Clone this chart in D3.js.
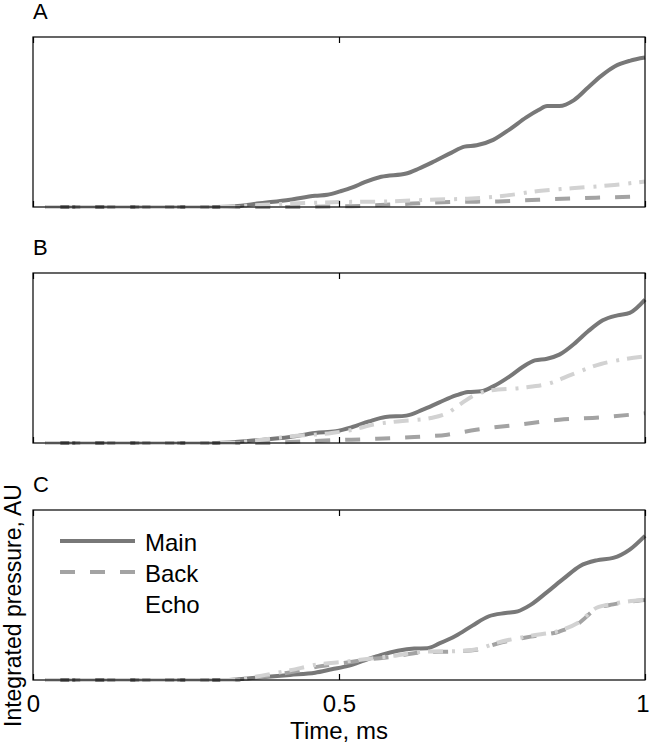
<!DOCTYPE html>
<html>
<head>
<meta charset="utf-8">
<script src="https://cdn.jsdelivr.net/npm/d3@7"></script>
<style>
  body { margin: 0; background: #fff; }
  svg text { font-family: "Liberation Sans", Arial, sans-serif; fill: #000; }
</style>
</head>
<body>
<div id="chart"></div>
<script>
const width = 650;
const height = 745;

// time (ms) and integrated pressure (fraction of panel height)
const mainA = [[0.02,0],[0.3,0],[0.34,0.008],[0.366,0.02],[0.42,0.043],[0.461,0.066],[0.481,0.072],[0.502,0.092],[0.522,0.115],[0.542,0.146],[0.569,0.178],[0.61,0.197],[0.63,0.225],[0.657,0.271],[0.684,0.32],[0.705,0.355],[0.725,0.363],[0.752,0.395],[0.779,0.457],[0.806,0.527],[0.826,0.57],[0.84,0.594],[0.86,0.594],[0.884,0.629],[0.907,0.703],[0.928,0.77],[0.951,0.828],[0.975,0.86],[1,0.879]];
const backA = [[0.02,0],[0.4,0],[0.52,0.005],[0.62,0.02],[0.69,0.03],[0.76,0.033],[0.826,0.043],[0.92,0.055],[1,0.062]];
const echoA = [[0.02,0],[0.3,0],[0.35,0.008],[0.42,0.02],[0.5,0.029],[0.58,0.033],[0.65,0.043],[0.71,0.049],[0.77,0.066],[0.826,0.094],[0.88,0.11],[0.95,0.13],[1,0.15]];

const mainB = [[0.02,0],[0.3,0],[0.366,0.016],[0.42,0.035],[0.461,0.059],[0.495,0.069],[0.522,0.094],[0.549,0.127],[0.576,0.153],[0.61,0.161],[0.637,0.196],[0.664,0.239],[0.691,0.28],[0.711,0.3],[0.732,0.304],[0.752,0.333],[0.779,0.392],[0.8,0.447],[0.82,0.486],[0.84,0.496],[0.86,0.52],[0.887,0.592],[0.907,0.657],[0.931,0.722],[0.955,0.751],[0.975,0.765],[1,0.843]];
const backB = [[0.02,0],[0.38,0],[0.42,0.006],[0.488,0.016],[0.556,0.024],[0.623,0.035],[0.677,0.049],[0.724,0.078],[0.793,0.108],[0.86,0.137],[0.928,0.151],[1,0.175]];
const echoB = [[0.02,0],[0.32,0],[0.353,0.01],[0.42,0.039],[0.488,0.059],[0.522,0.078],[0.556,0.108],[0.596,0.127],[0.65,0.147],[0.677,0.176],[0.697,0.225],[0.718,0.275],[0.745,0.308],[0.8,0.325],[0.846,0.353],[0.88,0.402],[0.928,0.465],[0.961,0.49],[1,0.51]];

const mainC = [[0.02,0],[0.32,0],[0.366,0.014],[0.42,0.03],[0.461,0.043],[0.488,0.063],[0.515,0.083],[0.542,0.116],[0.569,0.148],[0.596,0.172],[0.623,0.185],[0.644,0.187],[0.664,0.215],[0.691,0.26],[0.718,0.32],[0.745,0.375],[0.772,0.394],[0.792,0.404],[0.813,0.442],[0.84,0.517],[0.867,0.596],[0.894,0.671],[0.921,0.704],[0.948,0.718],[0.975,0.767],[1,0.848]];
const backC = [[0.02,0],[0.33,0],[0.38,0.022],[0.42,0.045],[0.468,0.08],[0.508,0.1],[0.542,0.118],[0.589,0.138],[0.637,0.163],[0.691,0.168],[0.725,0.178],[0.759,0.215],[0.813,0.255],[0.86,0.285],[0.89,0.33],[0.921,0.42],[0.948,0.445],[1,0.47]];
const echoC = [[0.02,0],[0.32,0],[0.38,0.03],[0.42,0.057],[0.468,0.093],[0.508,0.107],[0.542,0.122],[0.589,0.142],[0.637,0.166],[0.691,0.17],[0.725,0.181],[0.759,0.22],[0.813,0.26],[0.86,0.29],[0.89,0.335],[0.921,0.425],[0.948,0.448],[1,0.473]];

const panelLabels = ["A", "B", "C"];
const seriesNames = ["Main", "Back", "Echo"];
const xTicks = [0, 0.5, 1];
const xTickLabels = ["0", "0.5", "1"];

const panels = [
    { series: [mainA, backA, echoA], top: 37 },
    { series: [mainB, backB, echoB], top: 273 },
    { series: [mainC, backC, echoC], top: 510 }
];

const styles = {
    Main: { color: "#787878", dash: null },
    Back: { color: "#a3a3a3", dash: "15,15" },
    Echo: { color: "#d2d2d2", dash: "15,9,3,8" }
};

const left = 33, right = 645, panelH = 170;

const svg = d3.select("#chart")
    .append("svg")
    .attr("width", width)
    .attr("height", height);

const x = d3.scaleLinear().domain([0, 1]).range([left, right]);

panels.forEach((p, i) => {
    const y = d3.scaleLinear().domain([0, 1]).range([p.top + panelH, p.top]);
    const g = svg.append("g");

    const line = d3.line()
        .x(d => x(d[0]))
        .y(d => y(d[1]))
        .curve(d3.curveMonotoneX);

    p.series.forEach((s, k) => {
        const st = styles[seriesNames[k]];
        g.append("path")
            .datum(s)
            .attr("d", line)
            .attr("fill", "none")
            .attr("stroke", st.color)
            .attr("stroke-width", 4)
            .attr("stroke-dasharray", st.dash);
    });

    // box
    g.append("rect")
        .attr("x", left)
        .attr("y", p.top)
        .attr("width", right - left)
        .attr("height", panelH)
        .attr("fill", "none")
        .attr("stroke", "#000")
        .attr("stroke-width", 1.2);

    // inward ticks top and bottom
    const bottomAxis = d3.axisBottom(x).tickValues(xTicks).tickSizeInner(-6).tickSizeOuter(0)
        .tickFormat((d, j) => i === 2 ? xTickLabels[j] : "");
    const topAxis = d3.axisTop(x).tickValues(xTicks).tickSizeInner(-6).tickSizeOuter(0).tickFormat("");

    const gb = g.append("g").attr("transform", `translate(0,${p.top + panelH})`).call(bottomAxis);
    const gt = g.append("g").attr("transform", `translate(0,${p.top})`).call(topAxis);
    [gb, gt].forEach(a => {
        a.select(".domain").remove();
        a.selectAll("line").attr("stroke", "#000").attr("stroke-width", 1.2);
    });
    gb.selectAll("text")
        .attr("y", 32)
        .attr("dy", null)
        .style("font-size", "24px")
        .style("font-family", "Liberation Sans, Arial, sans-serif")
        .attr("fill", "#000")
        .attr("text-anchor", (d, j) => j === xTicks.length - 1 ? "end" : "middle")
        .attr("dx", (d, j) => j === xTicks.length - 1 ? 4 : 0);

    g.append("text")
        .attr("x", left)
        .attr("y", p.top - 18)
        .style("font-size", "22px")
        .text(panelLabels[i]);
});

// x axis title
svg.append("text")
    .attr("x", (left + right) / 2)
    .attr("y", 739)
    .attr("text-anchor", "middle")
    .style("font-size", "24px")
    .text("Time, ms");

// y axis title
svg.append("text")
    .attr("transform", "translate(21,727) rotate(-90)")
    .attr("text-anchor", "start")
    .style("font-size", "23px")
    .text("Integrated pressure, AU");

// legend in panel C
const legend = svg.append("g").attr("transform", "translate(60,541)");
seriesNames.forEach((name, k) => {
    const st = styles[name];
    const row = legend.append("g").attr("transform", `translate(0,${k * 31})`);
    if (name !== "Echo") {
        row.append("line")
            .attr("x1", 0).attr("x2", 75)
            .attr("y1", 0).attr("y2", 0)
            .attr("stroke", st.color)
            .attr("stroke-width", 4)
            .attr("stroke-dasharray", st.dash);
    }
    row.append("text")
        .attr("x", 85)
        .attr("y", 10)
        .style("font-size", "24px")
        .text(name);
});
</script>
</body>
</html>
